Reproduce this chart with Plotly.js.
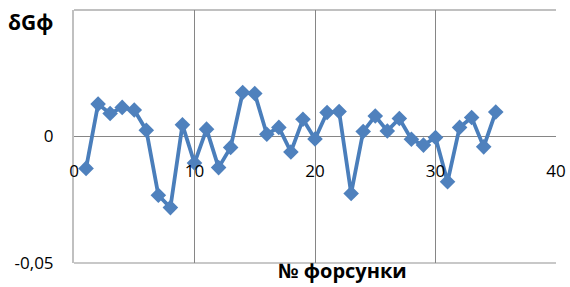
<!DOCTYPE html>
<html>
<head>
<meta charset="utf-8">
<script src="https://cdn.plot.ly/plotly-3.0.1.min.js"></script>
<style>html,body{margin:0;padding:0;background:#fff;}#chart{width:570px;height:287px;}</style>
</head>
<body>
<div id="chart"></div>
<script>
const nozzle = [1,2,3,4,5,6,7,8,9,10,11,12,13,14,15,16,17,18,19,20,21,22,23,24,25,26,27,28,29,30,31,32,33,34,35];
const deltaG = [-0.0126,0.0128,0.0091,0.0115,0.0105,0.0025,-0.0232,-0.0281,0.0046,-0.0105,0.0029,-0.0123,-0.0043,0.0174,0.0170,0.0009,0.0036,-0.0061,0.0068,-0.0010,0.0095,0.0099,-0.0225,0.0020,0.0081,0.0022,0.0071,-0.0011,-0.0034,-0.0004,-0.0179,0.0036,0.0075,-0.0041,0.0097];
const xTickVals = [0,10,20,30,40];
const xTickText = ['0','10','20','30','40'];
const yTickVals = [-0.05,0,0.05];
const yTickText = ['-0,05','0',''];
const yTitle = 'δGф';
const xTitle = '№ форсунки';

const font = 'Open Sans, Liberation Sans, sans-serif';

Plotly.newPlot('chart', [{
  x: nozzle, y: deltaG, type: 'scatter', mode: 'lines+markers',
  line: {color: '#4a7ebb', width: 3.8},
  marker: {symbol: 'diamond', size: 12, color: '#4f81bd', line: {width: 0}},
  cliponaxis: false, showlegend: false
}], {
  width: 570, height: 287,
  margin: {l: 74, r: 14, t: 10, b: 24},
  paper_bgcolor: '#fff', plot_bgcolor: '#fff',
  font: {family: font, size: 17, color: '#000'},
  title: {text: '<b>' + yTitle + '</b>', x: 8/570, xref: 'container', xanchor: 'left', y: 1 - 23/287, yref: 'container', yanchor: 'middle', font: {size: 21, family: font}},
  xaxis: {
    range: [0, 40], tickvals: xTickVals, ticktext: xTickText,
    anchor: 'free', position: 0.41, showline: false, ticks: '',
    showgrid: true, gridcolor: '#868686', gridwidth: 1, zeroline: false,
    tickfont: {size: 17, family: font}
  },
  yaxis: {
    range: [-0.05, 0.05], tickvals: yTickVals, ticktext: yTickText,
    showgrid: true, gridcolor: '#c0c0c0', gridwidth: 2,
    zeroline: true, zerolinecolor: '#868686', zerolinewidth: 1,
    showline: true, linecolor: '#c0c0c0', linewidth: 2, ticks: '',
    ticklabelstandoff: 15, tickfont: {size: 17, family: font}
  },
  shapes: [
    {type: 'line', xref: 'paper', yref: 'paper', x0: 0, x1: 1, y0: 1, y1: 1, line: {color: '#c0c0c0', width: 2}, layer: 'below'},
    {type: 'line', xref: 'paper', yref: 'paper', x0: 0, x1: 1, y0: 0, y1: 0, line: {color: '#c8c8c8', width: 2}, layer: 'below'}
  ],
  annotations: [{
    text: '<b>' + xTitle + '</b>', xref: 'paper', yref: 'paper',
    x: (342 - 74) / 482, y: -23/253, xanchor: 'center', yanchor: 'bottom',
    showarrow: false, font: {size: 20, family: font}
  }]
}, {displayModeBar: false, staticPlot: true});
</script>
</body>
</html>
